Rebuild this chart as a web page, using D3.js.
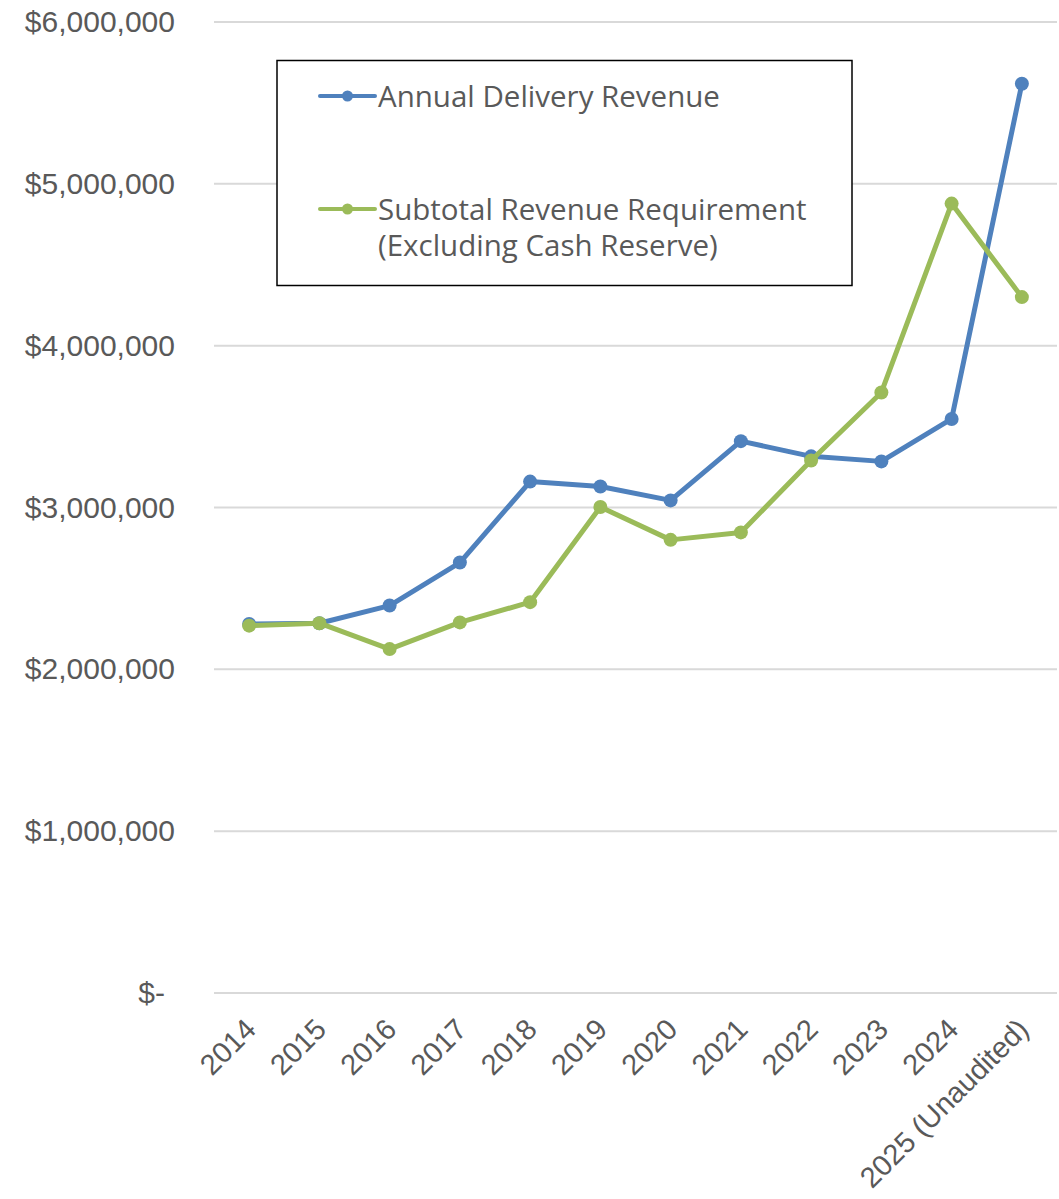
<!DOCTYPE html>
<html>
<head>
<meta charset="utf-8">
<script src="https://cdn.jsdelivr.net/npm/d3@7"></script>
<style>
  html, body { margin: 0; padding: 0; background: #fff; }
  #chart { width: 1059px; height: 1199px; }
</style>
</head>
<body>
<div id="chart"></div>
<script>
// data
const years = ["2014", "2015", "2016", "2017", "2018", "2019", "2020", "2021", "2022", "2023", "2024", "2025 (Unaudited)"];
const deliveryRevenue = [2280000, 2285000, 2394000, 2660000, 3160000, 3130000, 3044000, 3410000, 3316000, 3285000, 3547000, 5618000];
const revenueRequirement = [2270000, 2285000, 2125000, 2290000, 2415000, 3003000, 2800000, 2846000, 3290000, 3711000, 4878000, 4300000];
const yTicks = [0, 1000000, 2000000, 3000000, 4000000, 5000000, 6000000];

const seriesList = [
    { name: ["Annual Delivery Revenue"], values: deliveryRevenue, color: "#4f81bd" },
    { name: ["Subtotal Revenue Requirement", "(Excluding Cash Reserve)"], values: revenueRequirement, color: "#9bbb59" }
];

const W = 1059, H = 1199;
const margin = { top: 22, right: 2, bottom: 206, left: 214 };
const width = W - margin.left - margin.right;
const height = H - margin.top - margin.bottom;
const textColor = "#595959";
const axisFont = "'Liberation Sans', Arial, sans-serif";
const legendFont = "'Open Sans', 'Noto Sans', sans-serif";

const svg = d3.select("#chart").append("svg")
    .attr("width", W)
    .attr("height", H);

const g = svg.append("g")
    .attr("transform", `translate(${margin.left},${margin.top})`);

const x = d3.scalePoint()
    .domain(years)
    .range([0, width])
    .padding(0.5);

const y = d3.scaleLinear()
    .domain([0, 6000000])
    .range([height, 0]);

// gridlines
g.append("g")
    .selectAll("line")
    .data(yTicks)
    .join("line")
      .attr("x1", 0).attr("x2", width)
      .attr("y1", d => y(d)).attr("y2", d => y(d))
      .attr("stroke", "#d9d9d9")
      .attr("stroke-width", 2);

// y axis labels
const yAxis = g.append("g")
    .call(d3.axisLeft(y).tickValues(yTicks).tickSize(0).tickPadding(39)
        .tickFormat(d => d === 0 ? "$-" : "$" + d3.format(",")(d)));
yAxis.select(".domain").remove();
yAxis.selectAll("text")
    .attr("fill", textColor)
    .style("font-family", axisFont)
    .style("font-size", "30px")
    .attr("dx", d => d === 0 ? -10 : 0);

// x axis labels, rotated 45deg
const xAxis = g.append("g")
    .attr("transform", `translate(0,${height})`)
    .call(d3.axisBottom(x).tickSize(0).tickPadding(0));
xAxis.select(".domain").remove();
xAxis.selectAll("text")
    .attr("fill", textColor)
    .style("font-family", axisFont)
    .style("font-size", "29px")
    .attr("text-anchor", "end")
    .attr("dy", null)
    .attr("transform", "translate(1,31) rotate(-45)")
    .attr("y", 0)
    .attr("dominant-baseline", "central");

// lines + markers (green drawn last, on top)
const line = d3.line()
    .x((d, i) => x(years[i]))
    .y(d => y(d));

seriesList.forEach(s => {
    const sg = g.append("g");
    sg.append("path")
        .datum(s.values)
        .attr("d", line)
        .attr("fill", "none")
        .attr("stroke", s.color)
        .attr("stroke-width", 5)
        .attr("stroke-linejoin", "round");
    sg.selectAll("circle")
        .data(s.values)
        .join("circle")
          .attr("cx", (d, i) => x(years[i]))
          .attr("cy", d => y(d))
          .attr("r", 7)
          .attr("fill", s.color);
});

// legend
const legend = svg.append("g");
legend.append("rect")
    .attr("x", 277).attr("y", 60.5)
    .attr("width", 575).attr("height", 225)
    .attr("fill", "#fff")
    .attr("stroke", "#000")
    .attr("stroke-width", 1.5);

const legendRows = [96, 209];
seriesList.forEach((s, i) => {
    const ly = legendRows[i];
    legend.append("line")
        .attr("x1", 320).attr("x2", 375)
        .attr("y1", ly).attr("y2", ly)
        .attr("stroke", s.color)
        .attr("stroke-width", 4)
        .attr("stroke-linecap", "round");
    legend.append("circle")
        .attr("cx", 347.5).attr("cy", ly)
        .attr("r", 5.5)
        .attr("fill", s.color);
    // one text per line so the rows stay separate
    s.name.forEach((part, j) => {
        legend.append("text")
            .attr("x", 378).attr("y", ly + 10.5 + j * 36)
            .attr("fill", textColor)
            .style("font-family", legendFont)
            .style("font-size", "29.5px")
            .text(part);
    });
});
</script>
</body>
</html>
